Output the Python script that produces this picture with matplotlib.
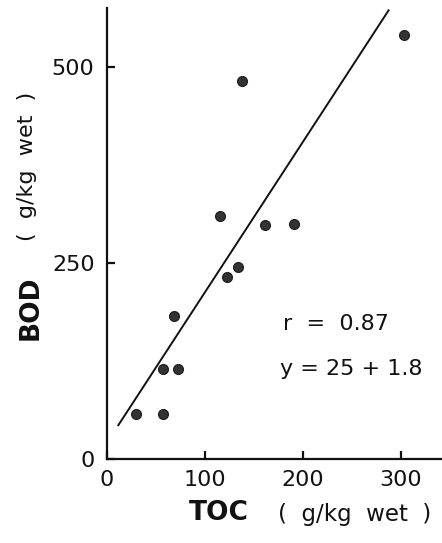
# BOD vs TOC scatter with regression line

import matplotlib
matplotlib.use('Agg')
from matplotlib.pyplot import subplots, close

## data
toc = [303, 138, 115, 161, 191, 134, 122, 68, 57, 72, 30, 57]
bod = [541, 482, 310, 298, 300, 245, 232, 182, 115, 115, 57, 58]

line_x = [11, 288]
line_y = [42, 573]

x_ticks = [0, 100, 200, 300]
y_ticks = [0, 250, 500]

r_txt = 'r  =  0.87'
eq_txt = 'y = 25 + 1.8'


## plot
fs = 16.
fig, ax = subplots(figsize=(4.42,5.43),dpi=100.)
ax.set_position([107/442, 1-459/543, 1-107/442, (459-8)/543])

ax.plot(line_x,line_y,color='#111111',lw=1.4,solid_capstyle='butt')
ax.plot(toc,bod,'o',ms=7.,color='#333333',mec='#222222')

ax.set(xlim=(0,342),ylim=(0,575),xticks=x_ticks,yticks=y_ticks)
for sp in ('top','right'):
	ax.spines[sp].set_visible(False)
for sp in ('left','bottom'):
	ax.spines[sp].set_linewidth(1.6)
	ax.spines[sp].set_color('#111111')

ax.tick_params(direction='in',length=6.,width=1.6,labelsize=fs,color='#111111',labelcolor='#111111')
ax.tick_params(axis='y',pad=9.)
ax.tick_params(axis='x',pad=8.)

ax.text(283/442,1-324/543,r_txt,transform=fig.transFigure,fontsize=fs,va='center',ha='left',color='#111111')
ax.text(280/442,1-369/543,eq_txt,transform=fig.transFigure,fontsize=fs,va='center',ha='left',color='#111111')

## axis labels
fig.text(219/442,1-513/543,'TOC',fontsize=19.,fontweight='bold',ha='center',va='center',color='#111111')
fig.text(355/442,1-515/543,'(  g/kg  wet  )',fontsize=16.5,ha='center',va='center',color='#111111')
fig.text(31/442,1-308/543,'BOD',fontsize=19.,fontweight='bold',ha='center',va='center',rotation=90,color='#111111')
fig.text(27/442,1-166/543,'(  g/kg  wet  )',fontsize=16.,ha='center',va='center',rotation=90,color='#111111')

fig.savefig('out.png')
close()
